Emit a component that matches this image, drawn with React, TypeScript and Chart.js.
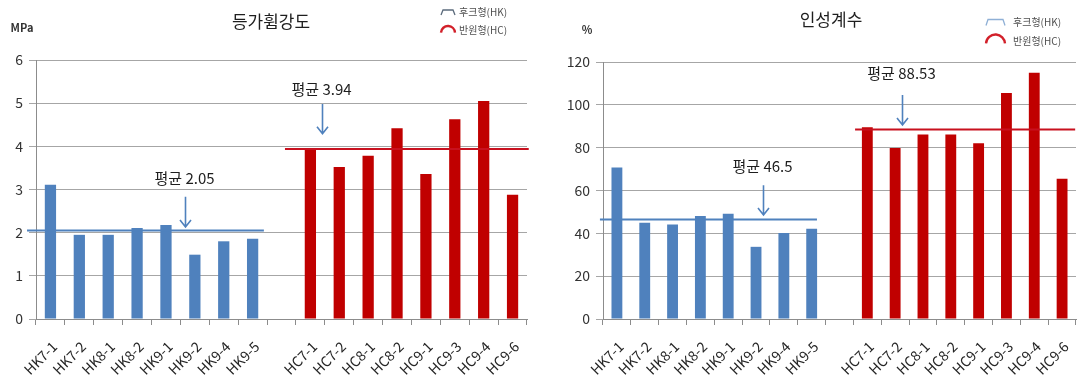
import { useEffect, useRef } from 'react';
import { Chart, registerables } from 'chart.js';

Chart.register(...registerables);

// Specimen names
const hkLabels = ['HK7-1', 'HK7-2', 'HK8-1', 'HK8-2', 'HK9-1', 'HK9-2', 'HK9-4', 'HK9-5'];
const hcLabels = ['HC7-1', 'HC7-2', 'HC8-1', 'HC8-2', 'HC9-1', 'HC9-3', 'HC9-4', 'HC9-6'];

// Equivalent flexural strength (MPa)
const hkStrength = [3.11, 1.95, 1.95, 2.11, 2.18, 1.49, 1.8, 1.86];
const hcStrength = [3.95, 3.52, 3.78, 4.42, 3.36, 4.63, 5.05, 2.88];
const strengthMeans = [2.05, 3.94]; // HK, HC

// Toughness index (%)
const hkToughness = [70.7, 45.0, 44.1, 48.1, 49.2, 33.7, 40.2, 42.1];
const hcToughness = [89.5, 79.8, 86.2, 86.2, 82.1, 105.5, 115.0, 65.5];
const toughnessMeans = [46.5, 88.53]; // HK, HC

// Y axis ranges: [min, max, step]
const strengthAxis = [0, 6, 1];
const toughnessAxis = [0, 120, 20];

const legendNames = ['후크형(HK)', '반원형(HC)'];

const BLUE = '#4F81BD';
const RED = '#C00000';
const RED_LINE = '#C8101E';
const FONT = '"Noto Sans CJK KR", "Noto Sans", sans-serif';

type MeanLine = { value: number; from: number; to: number; color: string };
type Note = { text: string; x: number; textY: number; top: number; tip: number };
type Panel = {
  title: string;
  titleX: number;
  titleY: number;
  unit: string;
  unitX: number;
  unitY: number;
  hk: number[];
  hc: number[];
  axis: number[];
  width: number;
  yWidth: number;
  padTop: number;
  padRight: number;
  means: MeanLine[];
  notes: Note[];
  hookColor: string;
  legend: { x: number; w: number; y1: number; y2: number; h: number; tx: number };
};

const panels: Panel[] = [
  {
    title: '등가휨강도',
    titleX: 271,
    titleY: 22,
    unit: 'MPa',
    unitX: 22,
    unitY: 28,
    hk: hkStrength,
    hc: hcStrength,
    axis: strengthAxis,
    width: 540,
    yWidth: 36,
    padTop: 60,
    padRight: 13,
    means: [
      { value: strengthMeans[0], from: -0.81, to: 7.39, color: BLUE },
      { value: strengthMeans[1], from: 8.12, to: 16.56, color: RED_LINE },
    ],
    notes: [
      { text: '평균 ' + strengthMeans[1], x: 9.4, textY: 5.33, top: 4.98, tip: 4.29 },
      { text: '평균 ' + strengthMeans[0], x: 4.67, textY: 3.27, top: 2.83, tip: 2.13 },
    ],
    hookColor: '#5B6B7C',
    legend: { x: 441, w: 14, y1: 12, y2: 33, h: 4, tx: 459 },
  },
  {
    title: '인성계수',
    titleX: 291,
    titleY: 20,
    unit: '%',
    unitX: 47,
    unitY: 30,
    hk: hkToughness,
    hc: hcToughness,
    axis: toughnessAxis,
    width: 537,
    yWidth: 63,
    padTop: 62,
    padRight: 1,
    means: [
      { value: toughnessMeans[0], from: -0.61, to: 7.19, color: BLUE },
      { value: toughnessMeans[1], from: 8.56, to: 16.47, color: RED_LINE },
    ],
    notes: [
      { text: '평균 ' + toughnessMeans[1], x: 10.26, textY: 114.9, top: 104.6, tip: 90.6 },
      { text: '평균 ' + toughnessMeans[0], x: 5.24, textY: 71.5, top: 62.5, tip: 48.6 },
    ],
    hookColor: '#8FB0D6',
    legend: { x: 446, w: 19, y1: 22, y2: 44, h: 5, tx: 473 },
  },
];

function overlayPlugin(p: Panel, labels: string[]) {
  return {
    id: 'overlay',
    afterDatasetsDraw(chart: any) {
      const ctx = chart.ctx as CanvasRenderingContext2D;
      const xs = chart.scales.x;
      const ys = chart.scales.y;
      ctx.save();
      // group average lines
      ctx.lineWidth = 2;
      for (const m of p.means) {
        const py = ys.getPixelForValue(m.value);
        ctx.strokeStyle = m.color;
        ctx.beginPath();
        ctx.moveTo(xs.getPixelForValue(m.from), py);
        ctx.lineTo(xs.getPixelForValue(m.to), py);
        ctx.stroke();
      }
      // average callouts with arrows
      for (const n of p.notes) {
        const ax = Math.round(xs.getPixelForValue(n.x)) + 0.5;
        const top = ys.getPixelForValue(n.top);
        const tip = ys.getPixelForValue(n.tip);
        ctx.strokeStyle = BLUE;
        ctx.lineWidth = 1.6;
        ctx.beginPath();
        ctx.moveTo(ax, top);
        ctx.lineTo(ax, tip);
        ctx.moveTo(ax - 5.5, tip - 7);
        ctx.lineTo(ax, tip);
        ctx.lineTo(ax + 5.5, tip - 7);
        ctx.stroke();
        ctx.fillStyle = '#1E1E1E';
        ctx.font = '15px ' + FONT;
        ctx.textAlign = 'center';
        ctx.textBaseline = 'middle';
        ctx.fillText(n.text, ax - 1, ys.getPixelForValue(n.textY));
      }
      ctx.restore();
    },
    afterDraw(chart: any) {
      const ctx = chart.ctx as CanvasRenderingContext2D;
      const xs = chart.scales.x;
      ctx.save();
      // title and unit
      ctx.fillStyle = '#1E1E1E';
      ctx.font = '17px ' + FONT;
      ctx.textAlign = 'center';
      ctx.textBaseline = 'middle';
      ctx.fillText(p.title, p.titleX, p.titleY);
      ctx.font = 'bold 11px ' + FONT;
      ctx.fillStyle = '#333';
      ctx.fillText(p.unit, p.unitX, p.unitY);

      // legend: hook-shaped and semicircular anchorage symbols
      const L = p.legend;
      ctx.lineWidth = 1.3;
      ctx.strokeStyle = p.hookColor;
      ctx.beginPath();
      ctx.moveTo(L.x, L.y1 + L.h / 2 + 1);
      ctx.lineTo(L.x + 2, L.y1 - L.h / 2);
      ctx.lineTo(L.x + L.w - 2, L.y1 - L.h / 2);
      ctx.lineTo(L.x + L.w, L.y1 + L.h / 2 + 1);
      ctx.stroke();
      ctx.lineWidth = 2.4;
      ctx.strokeStyle = '#D2202A';
      ctx.beginPath();
      ctx.arc(L.x + L.w / 2, L.y2, L.w / 2, Math.PI * 1.02, Math.PI * 1.98);
      ctx.stroke();
      ctx.fillStyle = '#505050';
      ctx.font = '10px ' + FONT;
      ctx.textAlign = 'left';
      ctx.fillText(legendNames[0], L.tx, L.y1);
      ctx.fillText(legendNames[1], L.tx, L.y2 - 3);

      // rotated category labels
      ctx.fillStyle = '#262626';
      ctx.font = '14px ' + FONT;
      ctx.textAlign = 'right';
      ctx.textBaseline = 'middle';
      labels.forEach((lab, i) => {
        if (!lab) return;
        const px = xs.getPixelForValue(i) + 4;
        const py = xs.top + 25;
        ctx.save();
        ctx.translate(px, py);
        ctx.rotate(-Math.PI / 4);
        ctx.fillText(lab, 0, 0);
        ctx.restore();
      });
      ctx.restore();
    },
  };
}

function ChartPanel({ p, left }: { p: Panel; left: number }) {
  const ref = useRef<HTMLCanvasElement>(null);
  useEffect(() => {
    const labels = [...hkLabels, '', ...hcLabels];
    const values = [...p.hk, null, ...p.hc];
    const colors = [...p.hk.map(() => BLUE), 'rgba(0,0,0,0)', ...p.hc.map(() => RED)];
    const chart = new Chart(ref.current as HTMLCanvasElement, {
      type: 'bar',
      data: {
        labels,
        datasets: [
          {
            data: values as any,
            backgroundColor: colors,
            borderWidth: 0,
            barPercentage: 0.39,
            categoryPercentage: 1,
          },
        ],
      },
      options: {
        responsive: false,
        animation: false,
        devicePixelRatio: 1,
        layout: { padding: { top: p.padTop, right: p.padRight, bottom: 0, left: 0 } },
        plugins: { legend: { display: false }, tooltip: { enabled: false }, title: { display: false } },
        scales: {
          x: {
            type: 'category',
            offset: true,
            grid: {
              offset: true,
              drawOnChartArea: false,
              drawTicks: true,
              tickLength: 6,
              color: '#8C8C8C',
            },
            border: { color: '#8C8C8C', width: 1 },
            ticks: { display: false },
            afterFit: (s: any) => {
              s.height = 61;
            },
          },
          y: {
            min: p.axis[0],
            max: p.axis[1],
            ticks: {
              stepSize: p.axis[2],
              color: '#333',
              padding: 6,
              font: { family: FONT, size: 14 },
            },
            grid: { color: '#A6A6A6', tickLength: 7, drawTicks: true },
            border: { color: '#8C8C8C', width: 1 },
            afterFit: (s: any) => {
              s.width = p.yWidth;
            },
          },
        },
      },
      plugins: [overlayPlugin(p, labels)],
    });
    return () => chart.destroy();
  }, [p]);
  return (
    <canvas
      ref={ref}
      width={p.width}
      height={380}
      style={{ position: 'absolute', left, top: 0, width: p.width, height: 380 }}
    />
  );
}

export default function App() {
  return (
    <div style={{ position: 'absolute', left: 0, top: 0, width: 1077, height: 380, background: '#fff' }}>
      <ChartPanel p={panels[0]} left={0} />
      <ChartPanel p={panels[1]} left={540} />
    </div>
  );
}
